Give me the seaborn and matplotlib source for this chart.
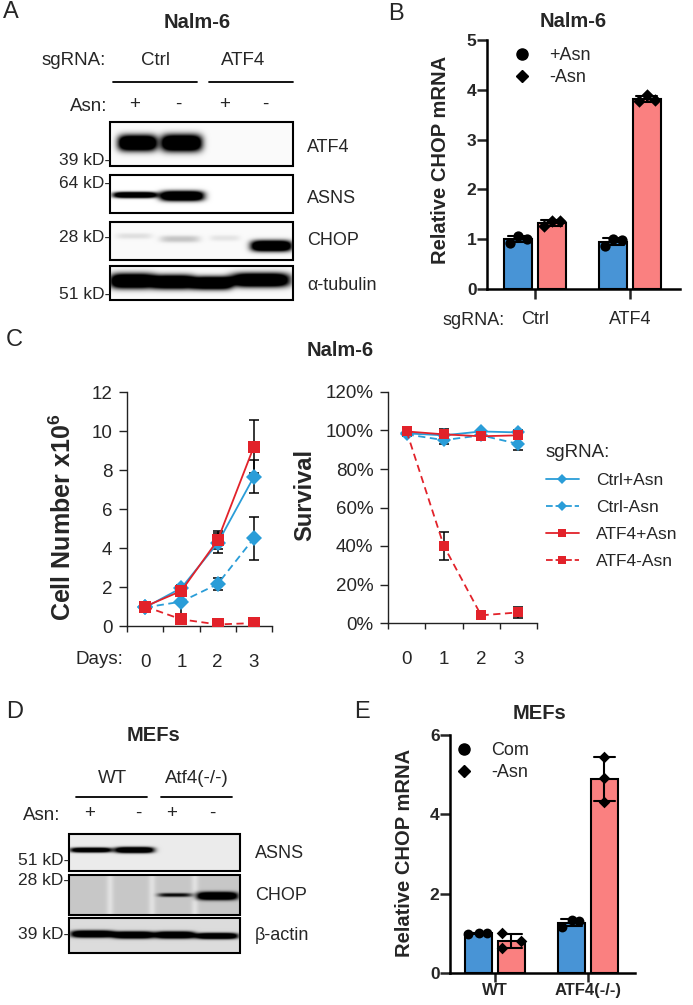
import matplotlib.pyplot as plt
import numpy as np
import pandas as pd
import seaborn as sns
from matplotlib.lines import Line2D
from matplotlib.patches import Rectangle
from matplotlib.font_manager import FontProperties

sns.set_style('ticks')
plt.rcParams['font.family'] = ['Liberation Sans', 'DejaVu Sans']
plt.rcParams['mathtext.fontset'] = 'custom'
plt.rcParams['mathtext.rm'] = 'Liberation Sans'
plt.rcParams['mathtext.bf'] = 'Liberation Sans:bold'

W, H = 693, 1005

# ---------------- data ----------------
# B: Nalm-6 relative CHOP mRNA, three replicates per bar
b_groups = ['Ctrl', 'ATF4']
b_asn = ['+Asn', '-Asn']
b_plus = [[0.93, 1.06, 1.01], [0.87, 1.00, 0.99]]
b_minus = [[1.26, 1.36, 1.37], [3.77, 3.89, 3.80]]

# C: Nalm-6 growth and survival
days = [0, 1, 2, 3]
c_series = ['Ctrl+Asn', 'Ctrl-Asn', 'ATF4+Asn', 'ATF4-Asn']
cell_ctrl_plus = [0.95, 1.95, 4.25, 7.65]
cell_ctrl_minus = [0.95, 1.25, 2.15, 4.5]
cell_atf4_plus = [1.0, 1.8, 4.4, 9.2]
cell_atf4_minus = [1.0, 0.34, 0.08, 0.15]
cell_err_ctrl_plus = [0.1, 0.15, 0.5, 0.85]
cell_err_ctrl_minus = [0.1, 0.65, 0.3, 1.1]
cell_err_atf4_plus = [0.1, 0.15, 0.45, 1.35]
cell_err_atf4_minus = [0.05, 0.1, 0.05, 0.05]
surv_ctrl_plus = [98.5, 97.5, 99.5, 99.0]
surv_ctrl_minus = [98.0, 95.0, 97.5, 93.0]
surv_atf4_plus = [99.5, 98.0, 97.0, 97.5]
surv_atf4_minus = [99.5, 40.0, 4.0, 5.5]
surv_err_ctrl_plus = [1.0, 2.0, 1.0, 1.0]
surv_err_ctrl_minus = [1.0, 2.0, 1.0, 3.0]
surv_err_atf4_plus = [1.0, 3.0, 2.0, 2.0]
surv_err_atf4_minus = [1.0, 7.5, 1.5, 3.0]

# E: MEFs relative CHOP mRNA
e_groups = ['WT', 'ATF4(-/-)']
e_cond = ['Com', '-Asn']
e_com = [[0.99, 1.01, 1.00], [1.17, 1.33, 1.30]]
e_minus = [[1.00, 0.63, 0.80], [5.44, 4.92, 4.32]]

# blot band intensities (lane 1..4)
a_atf4 = [1.0, 1.0, 0.0, 0.0]
a_asns = [0.95, 1.0, 0.0, 0.0]
a_chop = [0.06, 0.12, 0.05, 1.0]
a_tub = [1.0, 1.0, 1.0, 1.0]
d_asns = [0.85, 0.95, 0.0, 0.0]
d_chop = [0.0, 0.0, 0.55, 1.0]
d_actin = [1.0, 1.0, 1.0, 1.0]

blue_bar, red_bar = '#4894D6', '#FA8080'
blue_ln, red_ln = '#2A9DD8', '#E2222A'

# ---------------- figure ----------------
fig = plt.figure(figsize=(W / 100, H / 100), dpi=100)
ov = fig.add_axes([0, 0, 1, 1], zorder=0)
ov.set_axis_off()


def rect(x0, y0, x1, y1):
    return [x0 / W, 1 - y1 / H, (x1 - x0) / W, (y1 - y0) / H]


def txt(x, y, s, size=13.5, ha='center', **kw):
    ov.text(x, y, s, fontsize=size, ha=ha, va='center', **kw)


def blot(x0, x1, y0, y1, bg, lanes, vals, yc, hs, streaks=()):
    nx, ny = int((x1 - x0) * 3), int((y1 - y0) * 3)
    X, Y = np.meshgrid(np.linspace(x0, x1, nx), np.linspace(y0, y1, ny))
    img = np.full(X.shape, bg)
    for sx in streaks:
        img -= 0.1 * np.exp(-((X - sx) / 3.5) ** 2)
    dens = np.zeros_like(X)
    for (bx0, bx1), v, c, h in zip(lanes, vals, yc, hs):
        xc, hw, hh = (bx0 + bx1) / 2, (bx1 - bx0) / 2, h / 2
        d = np.abs((X - xc) / hw) ** 5 + np.abs((Y - c) / hh) ** 2.5
        dens += v * 1.8 * np.exp(-d)
    img = img + (1 - img) * np.clip(dens, 0, 1)
    ov.imshow(np.clip(img, 0, 1), cmap='gray_r', vmin=0, vmax=1,
              extent=(x0, x1, y1, y0), aspect='auto', interpolation='bilinear', zorder=1)
    ov.add_patch(Rectangle((x0, y0), x1 - x0, y1 - y0, fill=False, lw=1.5, ec='k', zorder=2))


# ---------------- A: blots ----------------
txt(11, 12, 'A', size=17)
txt(197, 22, 'Nalm-6', size=14.5, fontweight='bold')
txt(106, 60, 'sgRNA:', ha='right')
txt(156, 60, 'Ctrl')
txt(243, 60, 'ATF4')
ov.plot([113, 197], [82, 82], color='k', lw=1.3)
ov.plot([209, 293], [82, 82], color='k', lw=1.3)
txt(107, 106, 'Asn:', ha='right')
for x, s in zip([135, 178, 225, 265], ['+', '-', '+', '-']):
    txt(x, 104, s)

blot(110, 293, 122, 166, 0.02, [(118, 157), (161, 202), (210, 245), (250, 288)],
     a_atf4, [143, 143, 143, 143], [16, 17, 16, 16])
blot(110, 293, 175, 213, 0.0, [(113, 157), (160, 204), (210, 245), (250, 288)],
     a_asns, [195, 196, 196, 196], [6, 10, 8, 8])
blot(110, 293, 222, 260, 0.02, [(116, 152), (160, 200), (210, 240), (251, 292)],
     a_chop, [236, 239, 238, 246], [6, 7, 6, 11])
blot(110, 293, 266, 300, 0.02, [(110, 155), (153, 194), (192, 232), (231, 290)],
     a_tub, [281, 282, 283, 280], [15, 14, 13, 14])
for y, s in zip([160, 183, 237, 294], ['39 kD-', '64 kD-', '28 kD-', '51 kD-']):
    txt(110, y, s, size=12.5, ha='right')
for y, s in zip([147, 198, 240, 285], ['ATF4', 'ASNS', 'CHOP', 'α-tubulin']):
    txt(307, y, s, size=13, ha='left')

# ---------------- D: blots ----------------
txt(15, 712, 'D', size=17)
txt(153, 735, 'MEFs', size=14.5, fontweight='bold')
txt(112, 778, 'WT')
txt(197, 778, 'Atf4(-/-)')
ov.plot([76, 147], [797, 797], color='k', lw=1.3)
ov.plot([161, 232], [797, 797], color='k', lw=1.3)
txt(60, 815, 'Asn:', ha='right')
for x, s in zip([90, 138, 172, 212], ['+', '-', '+', '-']):
    txt(x, 813, s)
blot(69, 240, 834, 871, 0.08, [(70, 112), (115, 154), (158, 194), (198, 236)],
     d_asns, [850, 850, 850, 850], [5, 6, 6, 6])
blot(69, 240, 875, 915, 0.22, [(73, 108), (115, 150), (158, 192), (197, 238)],
     d_chop, [895, 895, 895, 896], [5, 5, 4, 8], streaks=[110, 152, 195])
blot(69, 240, 918, 953, 0.14, [(71, 114), (113, 154), (155, 195), (196, 238)],
     d_actin, [934, 935, 935, 936], [7, 7, 7, 6])
for y, s in zip([860, 880, 934], ['51 kD-', '28 kD-', '39 kD-']):
    txt(69, y, s, size=12.5, ha='right')
for y, s in zip([853, 895, 935], ['ASNS', 'CHOP', 'β-actin']):
    txt(255, y, s, size=13, ha='left')


# ---------------- Prism-style bar panels ----------------
def bar_panel(ax, groups, conds, first, second, dx, ylim, yticks, msize, leg_xy):
    rows = []
    for g, a, b in zip(groups, first, second):
        rows += [dict(group=g, cond=conds[0], value=v) for v in a]
        rows += [dict(group=g, cond=conds[1], value=v) for v in b]
    df = pd.DataFrame(rows)
    sns.barplot(data=df, x='group', y='value', hue='cond', hue_order=conds,
                palette=[blue_bar, red_bar], saturation=1, errorbar='sd', capsize=0.45,
                width=0.7, gap=0.16, edgecolor='k', linewidth=1.5,
                err_kws={'color': 'k', 'linewidth': 1.5}, legend=False, ax=ax)
    for gi, (a, b) in enumerate(zip(first, second)):
        for hi, (vals, mk) in enumerate([(a, 'o'), (b, 'D')]):
            xs = [gi + (-0.175 if hi == 0 else 0.175) + d for d in dx[gi][hi]]
            sns.scatterplot(x=xs, y=vals, marker=mk, color='k', linewidth=0,
                            s=msize[hi], ax=ax, zorder=5)
    ax.set_ylim(*ylim)
    ax.set_yticks(yticks, labels=[str(v) for v in yticks])
    sns.despine(ax=ax)
    ax.set_facecolor('none')
    for s in ['left', 'bottom']:
        ax.spines[s].set_linewidth(1.8)
        ax.spines[s].set_color('k')
    ax.tick_params(axis='y', width=1.8, length=7, pad=0.5)
    ax.set_xlabel('')
    ax.set_ylabel('')
    ax.legend(handles=[Line2D([], [], marker='o', ls='none', color='k', ms=8),
                       Line2D([], [], marker='D', ls='none', color='k', ms=6)],
              labels=conds, loc='upper left', frameon=False, fontsize=13,
              bbox_to_anchor=(leg_xy[0] / W, 1 - leg_xy[1] / H), bbox_transform=fig.transFigure,
              handlelength=1.0, handletextpad=1.0, labelspacing=0.3,
              borderpad=0, borderaxespad=0)


# B
ax_b = fig.add_axes(rect(487, 40, 680, 289), zorder=1)
b_dx = [[[-0.085, 0, 0.09], [-0.085, 0, 0.09]], [[-0.085, 0, 0.09], [-0.085, 0, 0.09]]]
bar_panel(ax_b, b_groups, b_asn, b_plus, b_minus, b_dx, (0, 5), list(range(6)), (55, 40),
          (513, 47))
ax_b.set_xlim(-0.505, 1.526)
ax_b.set_xticks([0, 1])
ax_b.set_xticklabels(b_groups, fontsize=13)
ax_b.tick_params(axis='x', width=1.8, length=7, pad=9)
txt(396, 14, 'B', size=17)
txt(573, 21, 'Nalm-6', size=14.5, fontweight='bold')
txt(440, 160, 'Relative CHOP mRNA', size=14.5, fontweight='bold', rotation=90)
txt(505, 320, 'sgRNA:', ha='right', size=13)

# E
ax_e = fig.add_axes(rect(450, 735, 635, 973), zorder=1)
e_dx = [[[-0.12, 0, 0.09], [-0.1, -0.1, 0.1]], [[-0.11, 0, 0.08], [0, 0, 0]]]
bar_panel(ax_e, e_groups, e_cond, e_com, e_minus, e_dx, (0, 6), [0, 2, 4, 6], (50, 35),
          (455, 742))
ax_e.set_xlim(-0.484, 1.505)
ax_e.set_xticks([0, 1])
ax_e.set_xticklabels(e_groups, fontsize=12, fontweight='bold')
ax_e.tick_params(axis='x', width=1.8, length=6.5, pad=1)
txt(362, 712, 'E', size=17)
txt(540, 713, 'MEFs', size=14.5, fontweight='bold')
txt(405, 853, 'Relative CHOP mRNA', size=14.5, fontweight='bold', rotation=90)

# ---------------- C: growth curves ----------------
cell_mean = [cell_ctrl_plus, cell_ctrl_minus, cell_atf4_plus, cell_atf4_minus]
cell_err = [cell_err_ctrl_plus, cell_err_ctrl_minus, cell_err_atf4_plus, cell_err_atf4_minus]
surv_mean = [surv_ctrl_plus, surv_ctrl_minus, surv_atf4_plus, surv_atf4_minus]
surv_err = [surv_err_ctrl_plus, surv_err_ctrl_minus, surv_err_atf4_plus, surv_err_atf4_minus]
rows = []
for name, cm, ce, sm, se in zip(c_series, cell_mean, cell_err, surv_mean, surv_err):
    for d, a, b, c, e in zip(days, cm, ce, sm, se):
        rows.append(dict(series=name, day=d, cell=a, cell_err=b, surv=c, surv_err=e))
df_c = pd.DataFrame(rows)

c_colors = dict(zip(c_series, [blue_ln, blue_ln, red_ln, red_ln]))
c_markers = dict(zip(c_series, ['D', 'D', 's', 's']))
c_dashes = dict(zip(c_series, ['', (4, 2.5), '', (4, 2.5)]))

ax_cn = fig.add_axes(rect(127, 392, 272, 626), zorder=1)
ax_sv = fig.add_axes(rect(388, 392, 537, 623), zorder=1)
for ax, col, ms in [(ax_cn, 'cell', 8.5), (ax_sv, 'surv', 7)]:
    sns.lineplot(data=df_c, x='day', y=col, hue='series', style='series',
                 palette=c_colors, markers=c_markers, dashes=c_dashes,
                 markersize=ms, markeredgewidth=0, linewidth=1.3,
                 legend=False, ax=ax, zorder=3)
    for name in c_series:
        sub = df_c[df_c.series == name]
        ax.errorbar(sub.day, sub[col], yerr=sub[col + '_err'], fmt='none',
                    ecolor='k', elinewidth=1.1, capsize=3.5, capthick=1.1, zorder=2)
    sns.despine(ax=ax)
    ax.set_facecolor('none')
    for s in ['left', 'bottom']:
        ax.spines[s].set_linewidth(1.0)
        ax.spines[s].set_color('#222222')
    ax.set_xlim(-0.5, 3.5)
    ax.set_xticks(days)
    ax.set_xticklabels([str(d) for d in days])
    ax.set_xticks([-0.5, 0.5, 1.5, 2.5, 3.5], minor=True)
    ax.tick_params(axis='x', which='major', length=0, pad=20, labelsize=13.5)
    ax.tick_params(axis='x', which='minor', length=4.5, width=1.0, color='#222222')
    ax.tick_params(axis='y', length=5.5, width=1.0, color='#222222', pad=5, labelsize=13.5)
    ax.set_xlabel('')
    ax.set_ylabel('')

ax_cn.set_ylim(0, 12)
ax_cn.set_yticks(range(0, 13, 2))
ax_sv.set_ylim(0, 120)
ax_sv.set_yticks(range(0, 121, 20))
ax_sv.set_yticklabels([f'{v}%' for v in range(0, 121, 20)])

txt(14, 340, 'C', size=17)
txt(340, 350, 'Nalm-6', size=14.5, fontweight='bold')
txt(63, 517, r'Cell Number x10$^{\mathbf{6}}$', size=18, fontweight='bold', rotation=90)
txt(305, 495, 'Survival', size=17, fontweight='bold', rotation=90)
txt(123, 659, 'Days:', ha='right')

c_handles = [Line2D([], [], color=c_colors[n], marker=c_markers[n], ms=5.5, mew=0, lw=1.3,
                    ls='-' if c_dashes[n] == '' else '--') for n in c_series]
ax_sv.legend(c_handles, c_series, title='sgRNA:', loc='upper left',
             bbox_to_anchor=(546 / W, 1 - 444 / H), bbox_transform=fig.transFigure,
             frameon=False, fontsize=12.5, title_fontsize=13.5, alignment='left',
             handlelength=1.9, handletextpad=1.0, labelspacing=0.68,
             borderpad=0, borderaxespad=0)

ov.set_xlim(0, W)
ov.set_ylim(H, 0)

# bold numeric ticks on the Prism panels
fig.canvas.draw()
bold_fp = FontProperties(family=['Liberation Sans', 'DejaVu Sans'], weight='bold', size=12.5)
for ax in (ax_b, ax_e):
    for lab in ax.get_yticklabels():
        lab.set_fontproperties(bold_fp)
fig.savefig('out.png', dpi=100)
